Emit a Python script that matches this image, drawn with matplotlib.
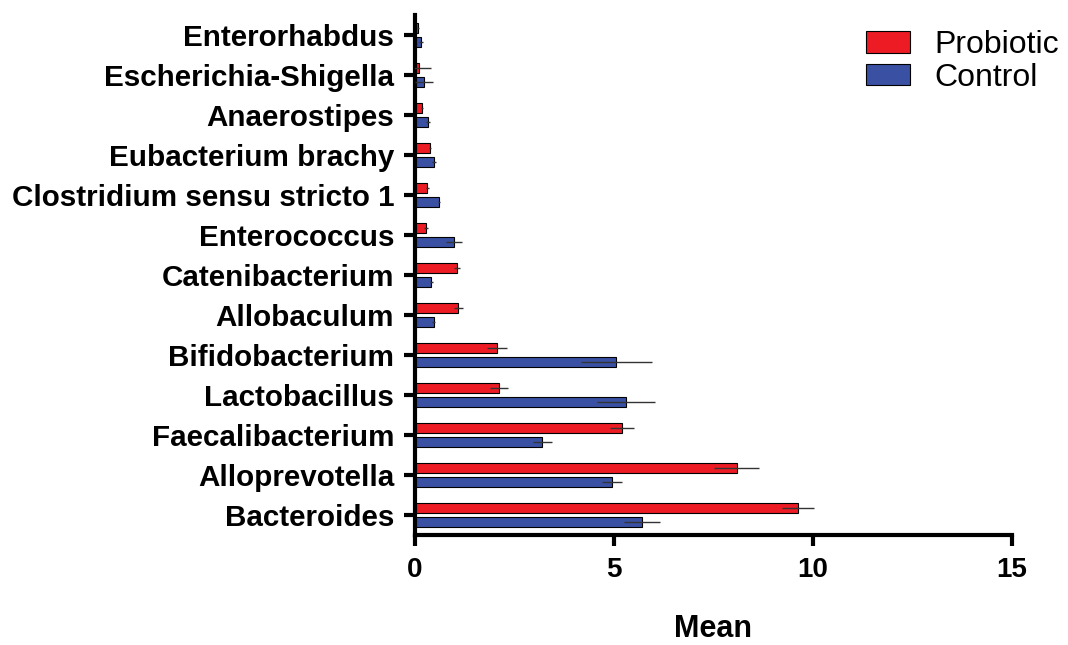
import matplotlib
matplotlib.use("Agg")
import matplotlib.pyplot as plt
import numpy as np

categories = ["Bacteroides", "Alloprevotella", "Faecalibacterium", "Lactobacillus",
              "Bifidobacterium", "Allobaculum", "Catenibacterium", "Enterococcus",
              "Clostridium sensu stricto 1", "Eubacterium brachy", "Anaerostipes",
              "Escherichia-Shigella", "Enterorhabdus"]
probiotic = [9.63, 8.08, 5.20, 2.11, 2.06, 1.09, 1.06, 0.28, 0.31, 0.37, 0.18, 0.09, 0.08]
probiotic_err = [0.40, 0.57, 0.31, 0.23, 0.25, 0.11, 0.08, 0.05, 0.03, 0.03, 0.02, 0.30, 0.02]
control = [5.71, 4.95, 3.20, 5.30, 5.06, 0.47, 0.41, 0.99, 0.61, 0.48, 0.33, 0.23, 0.16]
control_err = [0.45, 0.24, 0.24, 0.72, 0.90, 0.04, 0.04, 0.20, 0.03, 0.05, 0.05, 0.22, 0.05]
x_ticks = [0, 5, 10, 15]

plt.rcParams['font.family'] = ['Liberation Sans', 'DejaVu Sans']

fig = plt.figure(figsize=(10.68, 6.45), dpi=100)
ax = fig.add_axes([415/1068, 1-535/645, (1012-415)/1068, (535-15)/645])

y = np.arange(len(categories))
h = 0.25
off = 0.18
red = "#ED1C24"
blue = "#3A51A3"
ax.barh(y + off, probiotic, height=h, color=red, edgecolor="black", linewidth=0.8,
        label="Probiotic", zorder=2)
ax.barh(y - off, control, height=h, color=blue, edgecolor="black", linewidth=0.8,
        label="Control", zorder=2)
ax.errorbar(probiotic, y + off, xerr=probiotic_err, fmt="none", ecolor="#333333",
            elinewidth=1.0, capsize=0, zorder=3)
ax.errorbar(control, y - off, xerr=control_err, fmt="none", ecolor="#333333",
            elinewidth=1.0, capsize=0, zorder=3)

ax.set_xlim(0, 15)
ax.set_ylim(-0.5, 12.5)
ax.set_yticks(y)
ax.set_yticklabels(categories, fontsize=21.3, fontweight="bold")
ax.set_xticks(x_ticks)
ax.set_xticklabels([str(t) for t in x_ticks], fontsize=20, fontweight="bold")
ax.set_xlabel("Mean", fontsize=22, fontweight="bold", labelpad=22)

for s in ["top", "right"]:
    ax.spines[s].set_visible(False)
for s in ["left", "bottom"]:
    ax.spines[s].set_linewidth(3)
ax.tick_params(axis="both", direction="out", length=8, width=3)
ax.tick_params(axis="y", pad=7)
ax.tick_params(axis="x", pad=8)

leg = ax.legend(loc="upper left", bbox_to_anchor=(866/1068, 1-30/645),
                bbox_transform=fig.transFigure, frameon=False, fontsize=23,
                handlelength=1.38, handleheight=0.66, handletextpad=0.75,
                labelspacing=0.08, borderpad=0, borderaxespad=0)

fig.savefig("out.png", dpi=100)
